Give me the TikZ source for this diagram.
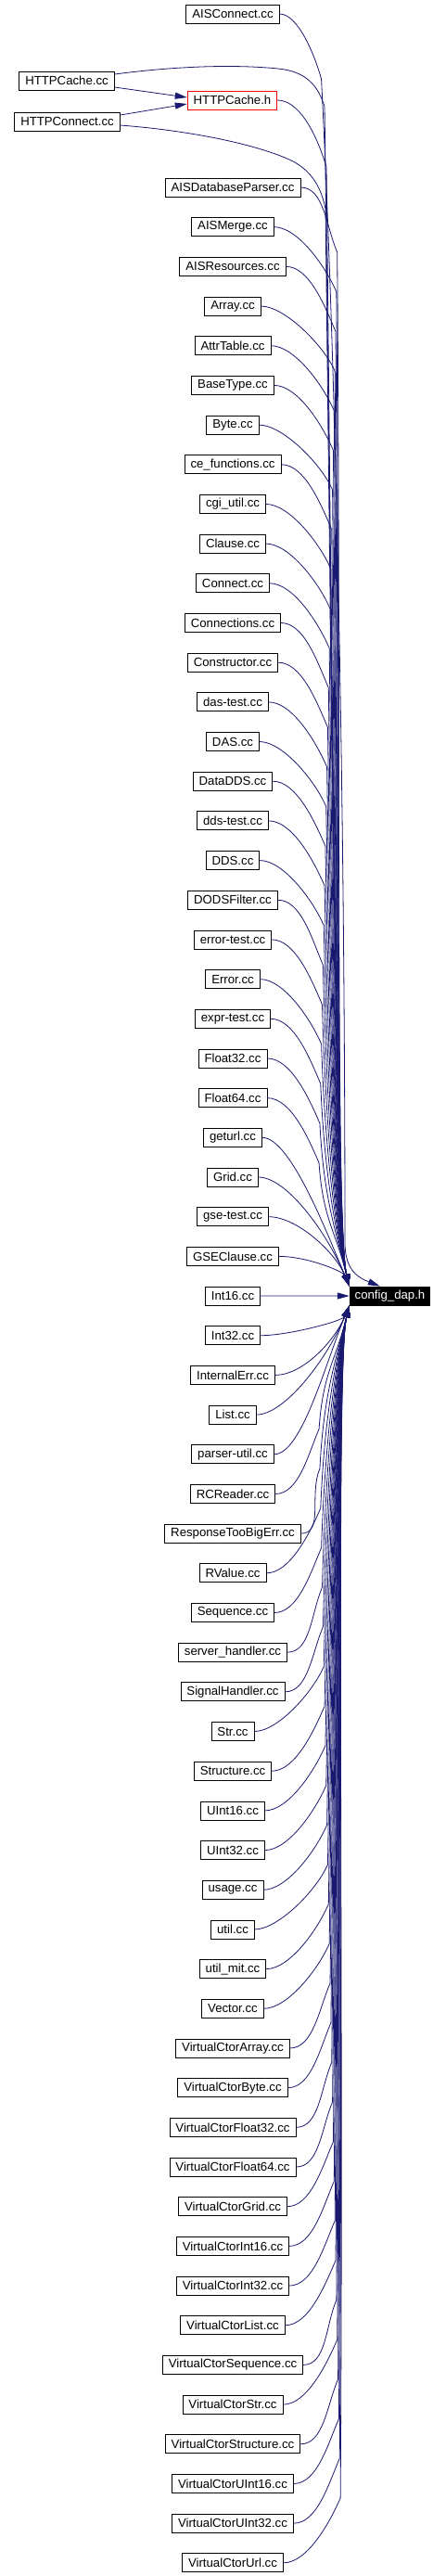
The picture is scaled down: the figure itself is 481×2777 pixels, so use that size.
\documentclass[tikz,border=0pt]{standalone}
\usepackage{fontspec}
\setmainfont{Liberation Sans}
\usetikzlibrary{arrows.meta,calc}
\definecolor{edgeblue}{RGB}{25,25,112}

\begin{document}
\begin{tikzpicture}[
    x=1pt, y=1pt,
    src/.style={rectangle, draw=black, line width=0.8pt, fill=white, minimum height=20pt, inner xsep=6.5pt, inner ysep=0pt, font=\fontsize{13.2}{15}\selectfont},
    hdr/.style={src, draw=red},
    cur/.style={src, fill=black, text=white, inner xsep=5.5pt},
    dep/.style={draw=edgeblue, line width=0.8pt, -{Triangle[length=13pt, width=7pt]}}
]
    \useasboundingbox (0,0) rectangle (481,-2777);

    % Top files
    \node[src] (ais) at (251,-15) {AISConnect.cc};
    \node[src] (hcc) at (72,-87) {HTTPCache.cc};
    \node[hdr] (hch) at (250.5,-108) {HTTPCache.h};
    \node[src] (hco) at (72.5,-131) {HTTPConnect.cc};
    \node[cur] (cfg) at (420.5,-1397) {config\_dap.h};

    % Column of sources
    \foreach \lbl [count=\i from 0] in {AISDatabaseParser.cc, AISMerge.cc, AISResources.cc, Array.cc, AttrTable.cc, BaseType.cc, Byte.cc, ce\_functions.cc, cgi\_util.cc, Clause.cc, Connect.cc, Connections.cc, Constructor.cc, das-test.cc, DAS.cc, DataDDS.cc, dds-test.cc, DDS.cc, DODSFilter.cc, error-test.cc, Error.cc, expr-test.cc, Float32.cc, Float64.cc, geturl.cc, Grid.cc, gse-test.cc, GSEClause.cc, Int16.cc, Int32.cc, InternalErr.cc, List.cc, parser-util.cc, RCReader.cc, ResponseTooBigErr.cc, RValue.cc, Sequence.cc, server\_handler.cc, SignalHandler.cc, Str.cc, Structure.cc, UInt16.cc, UInt32.cc, usage.cc, util.cc, util\_mit.cc, Vector.cc, VirtualCtorArray.cc, VirtualCtorByte.cc, VirtualCtorFloat32.cc, VirtualCtorFloat64.cc, VirtualCtorGrid.cc, VirtualCtorInt16.cc, VirtualCtorInt32.cc, VirtualCtorList.cc, VirtualCtorSequence.cc, VirtualCtorStr.cc, VirtualCtorStructure.cc, VirtualCtorUInt16.cc, VirtualCtorUInt32.cc, VirtualCtorUrl.cc} {
        \pgfmathsetmacro{\yy}{-202-42.68*\i}
        \node[src] (f\i) at (251,\yy) {\lbl};
    }

    % HTTP edges
    \draw[dep] ($(hcc.east)+(0,-7)$) -- ($(hch.west)+(0,3)$);
    \draw[dep] ($(hco.east)+(0,7)$) -- ($(hch.west)+(0,-4)$);
    \draw[dep] ($(hcc.east)+(0,7)$) .. controls (200,-70) and (260,-70) .. (300,-74)
        .. controls (330,-77) and (343,-92) .. (350,-115)
        .. controls (356,-500) and ($(cfg.north west)+(-15,60)$) .. (cfg.north west);
    \draw[dep] ($(hco.east)+(0,-4)$) .. controls (220,-142) and (290,-160) .. (318,-175)
        .. controls (335,-185) and (346,-200) .. (351,-225)
        .. controls (356,-600) and ($(cfg.north west)+(-15,60)$) .. (cfg.north west);
    \draw[dep] (hch.east) .. controls ($(hch.east)+(22,0)$) and (340,-140) .. (352,-180)
        .. controls (358,-700) and ($(cfg.north west)+(-15,60)$) .. (cfg.north west);
    \draw[dep] (ais.east) .. controls ($(ais.east)+(20,0)$) and ($(ais.east)+(38,-45)$) .. ($(ais.east)+(45,-70)$)
        .. controls ($(ais.east)+(62,-400)$) and (372,-900) .. (372,-1340)
        .. controls (372,-1372) and ($(cfg.north west)+(13,8)$) .. ($(cfg.north west)+(33,0)$);

    % Column edges
    \foreach \i in {0,...,60} {
        \pgfmathsetmacro{\yy}{202+42.68*\i}
        \ifnum\i<28
            \def\tgt{cfg.north west}\def\sg{-1}
            \pgfmathsetmacro{\d}{1386.5-\yy}
        \else
            \def\tgt{cfg.south west}\def\sg{1}
            \pgfmathsetmacro{\d}{\yy-1406.5}
        \fi
        \ifnum\i=28
            \draw[dep] (f\i) -- (cfg);
        \else
            \ifdim\d pt>200pt
                \pgfmathsetmacro{\lx}{340+0.02*\d}
                \pgfmathsetmacro{\by}{\yy*(-1)+70*\sg}
                \pgfmathsetmacro{\ky}{-28*\sg}
                \pgfmathsetmacro{\cy}{0.45*(\d-70)*\sg}
                \pgfmathsetmacro{\ty}{-60*\sg}
                \coordinate (b\i) at (\lx,\by);
                \draw[dep] (f\i.east) .. controls ($(f\i.east)+(25,0)$) and ($(b\i)+(-12,\ky)$) .. (b\i)
                    .. controls ($(b\i)+(4,\cy)$) and ($(\tgt)+(-15,\ty)$) .. (\tgt);
            \else
                \pgfmathsetmacro{\m}{min(60,0.5*\d)}
                \pgfmathsetmacro{\mx}{-0.42*\m}
                \pgfmathsetmacro{\my}{-\m*\sg}
                \draw[dep] (f\i.east) .. controls ($(f\i.east)+(30,0)$) and ($(\tgt)+(\mx,\my)$) .. (\tgt);
            \fi
        \fi
    }
\end{tikzpicture}
\end{document}
